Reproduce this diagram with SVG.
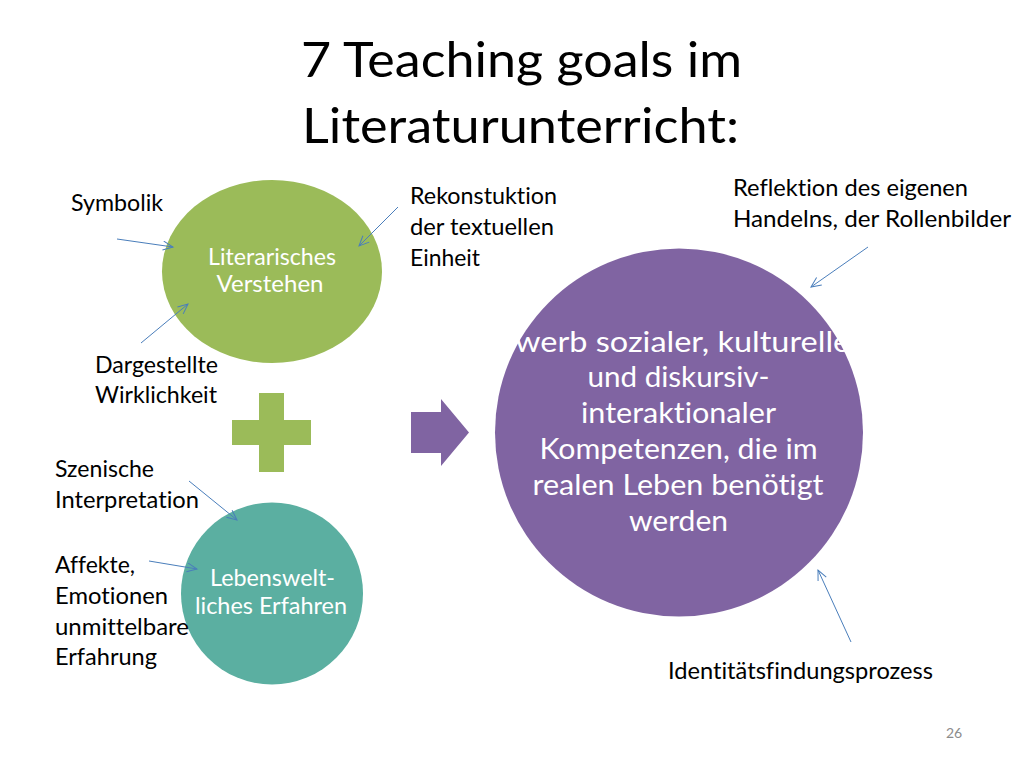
<svg xmlns="http://www.w3.org/2000/svg" width="1024" height="768" viewBox="0 0 1024 768">
  <style>
    text { font-family: Lato, "Liberation Sans", sans-serif; font-variant-ligatures: none; }
    .title { font-size: 49px; fill: #000; }
    .lbl { font-size: 23px; fill: #000; }
    .in { font-size: 23px; fill: #fff; text-anchor: middle; }
    .big { font-size: 29px; fill: #fff; text-anchor: middle; }
    .conn { stroke: #4a7ebb; stroke-width: 1; fill: none; marker-end: url(#ah); }
    .pn { font-size: 14px; fill: #8c8c8c; }
  </style>
  <defs>
    <marker id="ah" markerUnits="userSpaceOnUse" markerWidth="14" markerHeight="14" refX="11" refY="5" orient="auto">
      <path d="M1,0.5 L11,5 L1,9.5" fill="none" stroke="#4a7ebb" stroke-width="1"/>
    </marker>
  </defs>
  <rect width="1024" height="768" fill="#fff"/>

  <g id="title">
    <text class="title" x="301" y="77" textLength="441" lengthAdjust="spacingAndGlyphs">7 Teaching goals im</text>
    <text class="title" x="302" y="143" textLength="437" lengthAdjust="spacingAndGlyphs">Literaturunterricht:</text>
  </g>

  <g id="node-literarisch">
    <ellipse cx="272" cy="271.5" rx="110" ry="91.5" fill="#9bbb59"/>
    <text class="in" x="272" y="265" textLength="128" lengthAdjust="spacingAndGlyphs">Literarisches</text>
    <text class="in" x="270" y="292" textLength="107" lengthAdjust="spacingAndGlyphs">Verstehen</text>
  </g>

  <g id="node-plus">
    <path d="M259,393 H284 V420 H311 V445 H284 V472 H259 V445 H232 V420 H259 Z" fill="#9bbb59"/>
  </g>

  <g id="node-lebenswelt">
    <circle cx="272" cy="593.5" r="91" fill="#5bafa1"/>
    <text class="in" x="272.5" y="586" textLength="125" lengthAdjust="spacingAndGlyphs">Lebenswelt-</text>
    <text class="in" x="271" y="614" textLength="152" lengthAdjust="spacingAndGlyphs">liches Erfahren</text>
  </g>

  <g id="node-arrow">
    <polygon points="411,412 441,412 441,399 469,432.5 441,466 441,453 411,453" fill="#8064a2"/>
  </g>

  <g id="node-erwerb">
    <circle cx="679" cy="432.5" r="184" fill="#8064a2"/>
    <text class="big" x="673.5" y="352" textLength="377" lengthAdjust="spacingAndGlyphs">Erwerb sozialer, kultureller</text>
    <text class="big" x="678.5" y="387" textLength="182" lengthAdjust="spacingAndGlyphs">und diskursiv-</text>
    <text class="big" x="678.5" y="423" textLength="195" lengthAdjust="spacingAndGlyphs">interaktionaler</text>
    <text class="big" x="678.5" y="459" textLength="278" lengthAdjust="spacingAndGlyphs">Kompetenzen, die im</text>
    <text class="big" x="678" y="495" textLength="291" lengthAdjust="spacingAndGlyphs">realen Leben benötigt</text>
    <text class="big" x="678.5" y="531" textLength="99" lengthAdjust="spacingAndGlyphs">werden</text>
  </g>

  <g id="label-symbolik">
    <text class="lbl" x="71" y="211" textLength="92" lengthAdjust="spacingAndGlyphs">Symbolik</text>
  </g>
  <g id="label-rekonstruktion">
    <text class="lbl" x="410" y="204" textLength="147" lengthAdjust="spacingAndGlyphs">Rekonstuktion</text>
    <text class="lbl" x="410" y="235" textLength="144" lengthAdjust="spacingAndGlyphs">der textuellen</text>
    <text class="lbl" x="410" y="266" textLength="70" lengthAdjust="spacingAndGlyphs">Einheit</text>
  </g>
  <g id="label-dargestellte">
    <text class="lbl" x="95" y="373" textLength="123" lengthAdjust="spacingAndGlyphs">Dargestellte</text>
    <text class="lbl" x="95" y="403" textLength="122" lengthAdjust="spacingAndGlyphs">Wirklichkeit</text>
  </g>
  <g id="label-szenische">
    <text class="lbl" x="55" y="477" textLength="99" lengthAdjust="spacingAndGlyphs">Szenische</text>
    <text class="lbl" x="55" y="508" textLength="144" lengthAdjust="spacingAndGlyphs">Interpretation</text>
  </g>
  <g id="label-affekte">
    <text class="lbl" x="55" y="573" textLength="80" lengthAdjust="spacingAndGlyphs">Affekte,</text>
    <text class="lbl" x="55" y="604" textLength="113" lengthAdjust="spacingAndGlyphs">Emotionen</text>
    <text class="lbl" x="55" y="635" textLength="134" lengthAdjust="spacingAndGlyphs">unmittelbare</text>
    <text class="lbl" x="55" y="665" textLength="102" lengthAdjust="spacingAndGlyphs">Erfahrung</text>
  </g>
  <g id="label-reflektion">
    <text class="lbl" x="733" y="196" textLength="235" lengthAdjust="spacingAndGlyphs">Reflektion des eigenen</text>
    <text class="lbl" x="733" y="227" textLength="278" lengthAdjust="spacingAndGlyphs">Handelns, der Rollenbilder</text>
  </g>
  <g id="label-identitaet">
    <text class="lbl" x="668" y="679" textLength="265" lengthAdjust="spacingAndGlyphs">Identitätsfindungsprozess</text>
  </g>
  <g id="page-number">
    <text class="pn" x="946" y="738">26</text>
  </g>

  <g id="connectors">
    <line class="conn" x1="117" y1="239" x2="173" y2="247"/>
    <line class="conn" x1="398" y1="207" x2="359" y2="246"/>
    <line class="conn" x1="141" y1="343" x2="188" y2="304"/>
    <line class="conn" x1="189" y1="481" x2="237" y2="520"/>
    <line class="conn" x1="149" y1="561" x2="197" y2="569"/>
    <line class="conn" x1="868" y1="247" x2="811" y2="287"/>
    <line class="conn" x1="851" y1="642" x2="818" y2="570"/>
  </g>
</svg>
